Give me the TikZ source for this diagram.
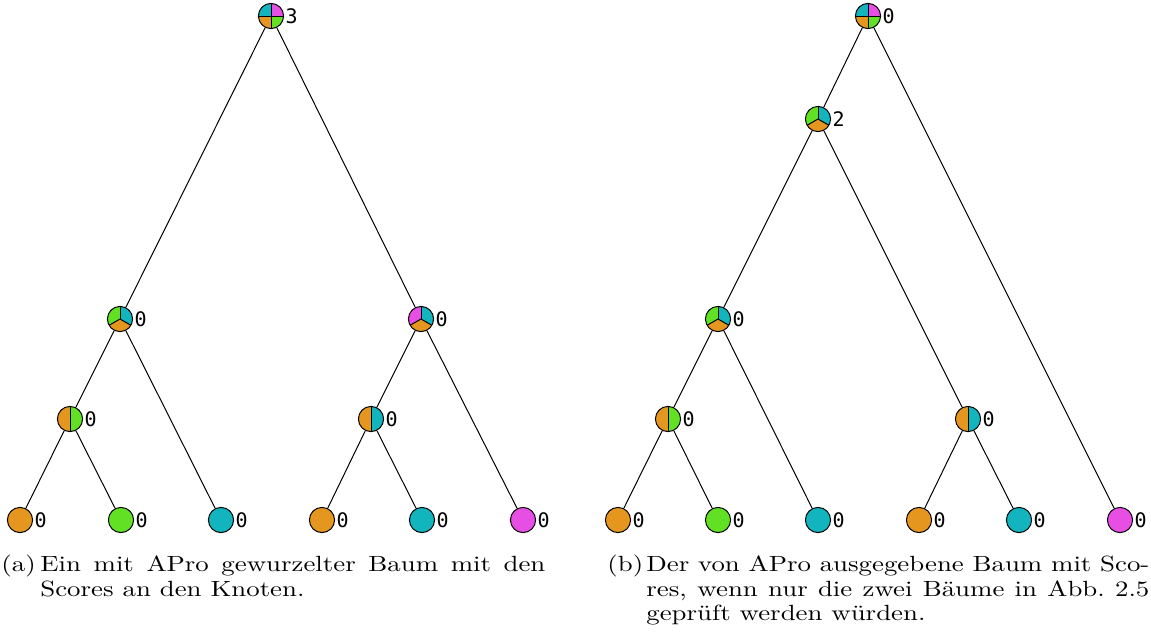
\documentclass[tikz,border=0pt]{standalone}
\usepackage{fontspec}
\newfontfamily\digitfont{DejaVu Sans Mono}
\newfontfamily\capfont{lmroman10-regular}[Extension=.otf, FakeStretch=1.22]
\definecolor{cO}{RGB}{228,150,30}
\definecolor{cG}{RGB}{98,224,35}
\definecolor{cC}{RGB}{18,180,190}
\definecolor{cM}{RGB}{230,78,228}
\newcommand\pieSec[3]{\fill[#1] (path picture bounding box.center) -- ++(#2:9pt) arc[start angle=#2, end angle=#3, radius=9pt] -- cycle;}
\newcommand\pieDiv[1]{\draw[line width=0.5pt] (path picture bounding box.center) -- ++(#1:9pt);}
\tikzset{
  pn/.style={circle, draw=black, line width=0.5pt, minimum size=12.6pt, inner sep=0pt},
  q4/.style={pn, path picture={\pieSec{cC}{90}{180}\pieSec{cM}{0}{90}\pieSec{cO}{180}{270}\pieSec{cG}{270}{360}\pieDiv{0}\pieDiv{90}\pieDiv{180}\pieDiv{270}}},
  t3/.style 2 args={pn, path picture={\pieSec{#1}{90}{210}\pieSec{#2}{-30}{90}\pieSec{cO}{210}{330}\pieDiv{90}\pieDiv{210}\pieDiv{330}}},
  h2/.style={pn, path picture={\pieSec{cO}{90}{270}\pieSec{#1}{-90}{90}\pieDiv{90}\pieDiv{270}}},
  leaf/.style={pn, fill=#1},
  lbl/.style={anchor=west, inner sep=0.6pt, font=\digitfont},
  edge/.style={line width=0.5pt},
  capt/.style={anchor=north west, inner sep=0pt, text width=272pt, align=justify, font=\capfont\fontsize{11}{12.2}\selectfont}
}
\begin{document}
\begin{tikzpicture}[x=0.5pt, y=-0.5pt]
\useasboundingbox (0,0) rectangle (1151,643);
% ---------- tree (a)
\node[q4] (ar) at (271,16) {};
\node[t3={cG}{cC}] (a1) at (120,319) {};
\node[t3={cM}{cC}] (a2) at (421,319) {};
\node[h2=cG] (a11) at (70,419) {};
\node[h2=cC] (a21) at (371,419) {};
\node[leaf=cO] (al1) at (20,520) {};
\node[leaf=cG] (al2) at (121,520) {};
\node[leaf=cC] (al3) at (221,520) {};
\node[leaf=cO] (al4) at (322,520) {};
\node[leaf=cC] (al5) at (422,520) {};
\node[leaf=cM] (al6) at (523,520) {};
\draw[edge] (ar) -- (a1);
\draw[edge] (ar) -- (a2);
\draw[edge] (a1) -- (a11);
\draw[edge] (a1) -- (al3);
\draw[edge] (a11) -- (al1);
\draw[edge] (a11) -- (al2);
\draw[edge] (a2) -- (a21);
\draw[edge] (a2) -- (al6);
\draw[edge] (a21) -- (al4);
\draw[edge] (a21) -- (al5);
\node[lbl] (tar) at (ar.east) {3};
\node[lbl] (ta1) at (a1.east) {0};
\node[lbl] (ta2) at (a2.east) {0};
\node[lbl] (ta11) at (a11.east) {0};
\node[lbl] (ta21) at (a21.east) {0};
\node[lbl] (tal1) at (al1.east) {0};
\node[lbl] (tal2) at (al2.east) {0};
\node[lbl] (tal3) at (al3.east) {0};
\node[lbl] (tal4) at (al4.east) {0};
\node[lbl] (tal5) at (al5.east) {0};
\node[lbl] (tal6) at (al6.east) {0};
% ---------- tree (b)
\node[q4] (br) at (868,16) {};
\node[t3={cG}{cC}] (b1) at (818,119) {};
\node[t3={cG}{cC}] (b11) at (718,319) {};
\node[h2=cG] (b111) at (668,419) {};
\node[h2=cC] (b12) at (968,419) {};
\node[leaf=cO] (bl1) at (618,520) {};
\node[leaf=cG] (bl2) at (718,520) {};
\node[leaf=cC] (bl3) at (818,520) {};
\node[leaf=cO] (bl4) at (919,520) {};
\node[leaf=cC] (bl5) at (1019,520) {};
\node[leaf=cM] (bl6) at (1120,520) {};
\draw[edge] (br) -- (b1);
\draw[edge] (br) -- (bl6);
\draw[edge] (b1) -- (b11);
\draw[edge] (b1) -- (b12);
\draw[edge] (b11) -- (b111);
\draw[edge] (b11) -- (bl3);
\draw[edge] (b111) -- (bl1);
\draw[edge] (b111) -- (bl2);
\draw[edge] (b12) -- (bl4);
\draw[edge] (b12) -- (bl5);
\node[lbl] (tbr) at (br.east) {0};
\node[lbl] (tb1) at (b1.east) {2};
\node[lbl] (tb11) at (b11.east) {0};
\node[lbl] (tb111) at (b111.east) {0};
\node[lbl] (tb12) at (b12.east) {0};
\node[lbl] (tbl1) at (bl1.east) {0};
\node[lbl] (tbl2) at (bl2.east) {0};
\node[lbl] (tbl3) at (bl3.east) {0};
\node[lbl] (tbl4) at (bl4.east) {0};
\node[lbl] (tbl5) at (bl5.east) {0};
\node[lbl] (tbl6) at (bl6.east) {0};
% ---------- captions
\node[capt] (capa) at (1,555) {\hangindent=19.5pt\hangafter=1\makebox[19.5pt][l]{(a)}Ein mit APro gewurzelter Baum mit den\linebreak Scores an den Knoten.\par};
\node[capt, text width=271pt] (capb) at (607,555) {\hangindent=19.5pt\hangafter=1\makebox[19.5pt][l]{(b)}Der von APro ausgegebene Baum mit Sco-\linebreak res, wenn nur die zwei Bäume in Abb.~2.5\linebreak geprüft werden würden.\par};
\end{tikzpicture}
\end{document}
